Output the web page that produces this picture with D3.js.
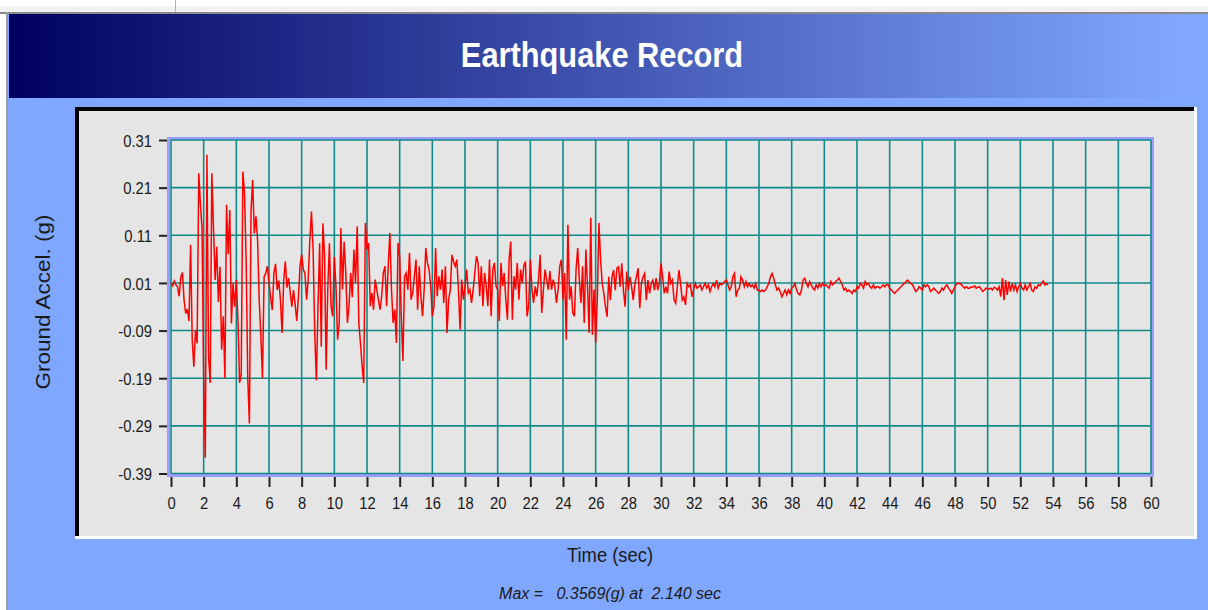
<!DOCTYPE html>
<html lang="en">
  <head>
    <meta charset="UTF-8" />
    <title>Earthquake Record</title>
    <style>
      body { margin: 0; background: #fff; }
      svg { display: block; font-family: "Liberation Sans", Arial, sans-serif; }
    </style>
  </head>
  <body>
    <svg width="1208" height="610"></svg>
    <script src="https://cdn.jsdelivr.net/npm/d3@7"></script>
    <script>
      // record sampled every dt seconds, values in g
      var dt = 0.1;
      var accel00 = [
        0.010, 0.004, 0.014, 0.006, 0.002, -0.018, 0.022, 0.032, -0.026, -0.054,
        -0.045, -0.070, 0.090, -0.110, -0.166, -0.089, -0.117, 0.240, 0.177, 0.125,
        -0.190, -0.357, 0.279, -0.145, -0.200, 0.240, 0.128, 0.016, 0.086, -0.030,
        0.044, -0.130, -0.060, -0.190, 0.174, 0.070, 0.163, -0.075, 0.010, -0.040,
        0.016, -0.070, -0.200, -0.180, 0.244, 0.198, 0.060, -0.190, -0.285, 0.163,
        0.226, 0.114, 0.150, 0.100, -0.026, -0.100, -0.190, 0.023, 0.030, 0.045,
        0.010, -0.020, -0.047, 0.030, 0.050, -0.005, 0.015, -0.025, -0.095, 0.015,
        0.055, 0.000, 0.020, -0.010, -0.040, -0.005, -0.035, -0.070, -0.020, 0.045,
        0.070, 0.038, 0.030, -0.025, 0.016, 0.100, 0.160, 0.080, -0.095, -0.194,
        -0.040, 0.093, -0.124, 0.135, 0.070, -0.172, 0.000, 0.093, -0.040, -0.060
      ];
      var accel10 = [
        0.065, 0.003, -0.109, -0.074, 0.125, -0.004, 0.097, 0.031, -0.074, -0.039,
        0.031, -0.020, 0.080, 0.010, 0.129, -0.074, -0.116, -0.165, -0.200, 0.136,
        0.080, 0.094, -0.039, -0.011, -0.046, 0.017, -0.004, -0.025, -0.046, -0.018,
        0.031, 0.045, -0.039, 0.045, 0.115, -0.004, -0.074, -0.046, -0.116, 0.094,
        0.066, -0.060, -0.154, 0.024, 0.031, -0.004, 0.073, -0.025, -0.011, 0.024,
        0.059, -0.046, 0.045, -0.018, -0.060, -0.004, 0.083, 0.052, 0.038, 0.003,
        -0.060, -0.039, 0.083, -0.018, 0.024, -0.004, 0.038, -0.032, 0.045, -0.095,
        -0.025, -0.004, 0.069, 0.055, 0.045, 0.059, -0.004, -0.088, 0.017, -0.025,
        0.003, 0.038, -0.011, -0.004, -0.032, -0.004, 0.031, 0.066, 0.052, -0.018,
        0.045, -0.039, 0.031, 0.003, -0.039, 0.059, -0.060, 0.038, 0.052, 0.003
      ];
      var accel20 = [
        -0.004, -0.070, 0.052, 0.003, 0.031, -0.025, -0.067, 0.059, 0.097, -0.067,
        0.024, -0.004, 0.052, -0.025, 0.038, 0.010, 0.045, 0.055, -0.060, -0.039,
        0.059, -0.004, -0.032, 0.003, -0.018, 0.017, 0.069, -0.053, -0.004, 0.038,
        0.017, -0.004, 0.035, -0.004, 0.017, 0.003, -0.032, -0.004, 0.045, 0.059,
        -0.025, 0.031, -0.109, 0.132, -0.025, 0.003, -0.053, -0.060, 0.038, 0.083,
        0.017, -0.032, 0.045, -0.074, 0.080, 0.003, -0.095, 0.147, -0.099, -0.004,
        -0.116, -0.025, 0.136, 0.060, 0.009, -0.012, -0.040, -0.061, 0.023, -0.026,
        0.023, 0.037, -0.005, 0.041, 0.044, 0.002, 0.051, -0.005, -0.040, 0.034,
        -0.005, 0.023, 0.002, -0.026, 0.009, 0.023, 0.041, -0.043, 0.009, 0.023,
        0.030, -0.026, 0.016, -0.012, 0.009, 0.016, -0.005, 0.020, -0.005, 0.009
      ];
      var accel30 = [
        0.051, 0.023, -0.012, 0.002, -0.012, 0.034, 0.009, 0.016, -0.026, -0.033,
        0.002, 0.037, 0.009, -0.026, -0.019, -0.036, 0.009, 0.002, 0.006, -0.019,
        -0.004, 0.009, -0.001, 0.002, 0.006, -0.005, 0.002, 0.009, -0.001, 0.006,
        -0.008, 0.002, 0.009, 0.002, 0.016, -0.001, 0.009, 0.006, 0.009, 0.013,
        0.016, 0.006, -0.005, 0.002, 0.023, 0.030, -0.019, -0.005, -0.001, 0.023,
        0.016, 0.002, 0.013, 0.002, 0.009, 0.002, 0.006, -0.001, 0.009, -0.005,
        -0.006, -0.008, -0.005, -0.008, -0.005, 0.002, 0.009, 0.023, 0.030, 0.020,
        0.006, -0.005, -0.001, -0.008, -0.019, -0.012, -0.005, -0.015, -0.005, -0.012,
        -0.001, 0.002, 0.009, -0.005, -0.012, -0.015, -0.005, 0.016, 0.020, 0.009,
        0.002, 0.013, 0.006, -0.001, -0.005, 0.006, -0.001, 0.009, 0.002, 0.009
      ];
      var accel40 = [
        0.004, 0.006, 0.002, -0.001, 0.013, 0.006, 0.009, 0.013, 0.016, 0.020,
        0.013, 0.006, -0.005, -0.001, -0.008, -0.005, -0.008, -0.012, -0.005, -0.008,
        0.002, -0.001, 0.009, 0.006, -0.001, 0.013, 0.006, 0.009, 0.002, -0.001,
        0.006, -0.001, 0.002, 0.002, -0.001, 0.002, 0.006, 0.002, 0.006, 0.006,
        -0.001, -0.005, -0.008, -0.012, -0.008, -0.005, -0.001, 0.002, 0.006, 0.009,
        0.013, 0.016, 0.012, 0.009, 0.006, -0.001, -0.008, -0.005, 0.002, -0.001,
        -0.005, 0.006, 0.002, 0.006, 0.002, -0.008, -0.005, -0.001, -0.005, -0.008,
        -0.012, -0.008, -0.001, -0.005, 0.002, 0.006, -0.001, -0.005, -0.012, -0.005,
        0.002, 0.009, 0.009, 0.009, 0.006, 0.002, -0.001, 0.002, -0.001, -0.001,
        0.002, 0.001, 0.004, -0.001, 0.001, 0.002, -0.003, -0.008, -0.005, -0.001
      ];
      var accel50 = [
        -0.002, -0.003, -0.001, -0.005, 0.001, -0.001, -0.005, 0.002, -0.019, 0.020,
        -0.026, 0.016, -0.015, 0.013, -0.008, 0.009, -0.005, 0.006, -0.008, 0.002,
        0.009, -0.001, -0.005, 0.006, -0.005, 0.002, 0.009, -0.005, -0.008, 0.002,
        -0.001, 0.006, 0.004, 0.009, 0.014, 0.006, 0.008, 0.006
      ];

      var xTickLabels = [0, 2, 4, 6, 8, 10, 12, 14, 16, 18, 20, 22, 24, 26, 28, 30,
        32, 34, 36, 38, 40, 42, 44, 46, 48, 50, 52, 54, 56, 58, 60];
      var yTickLabels = [0.31, 0.21, 0.11, 0.01, -0.09, -0.19, -0.29, -0.39];
      var peakAccel = 0.3569;
      var peakTime = 2.14;

      var accel = accel00.concat(accel10, accel20, accel30, accel40, accel50);
      var record = accel.map(function(a, i) {
        return { t: i * dt, a: a };
      });

      var svg = d3.select("svg");

      // window chrome bits at the top / left
      svg.append("rect").attr("x", 0).attr("y", 0).attr("width", 1208).attr("height", 610).attr("fill", "#ffffff");
      svg.append("rect").attr("x", 0).attr("y", 6).attr("width", 1208).attr("height", 6).attr("fill", "#f1f1f1");
      svg.append("rect").attr("x", 0).attr("y", 12).attr("width", 1208).attr("height", 2).attr("fill", "#8a8a8a");
      svg.append("line").attr("x1", 175.5).attr("x2", 175.5).attr("y1", 0).attr("y2", 12).attr("stroke", "#b0b0b0");
      svg.append("rect").attr("x", 6).attr("y", 12).attr("width", 2).attr("height", 598).attr("fill", "#9a9aa6");

      // light blue background
      svg.append("rect").attr("x", 8).attr("y", 14).attr("width", 1200).attr("height", 596).attr("fill", "#80a7fe");

      var grad = svg.append("defs").append("linearGradient").attr("id", "hdr")
        .attr("x1", "0%").attr("x2", "100%").attr("y1", "0%").attr("y2", "0%");
      grad.append("stop").attr("offset", "0%").attr("stop-color", "#000060");
      grad.append("stop").attr("offset", "100%").attr("stop-color", "#82a9ff");

      svg.append("rect").attr("x", 9).attr("y", 14).attr("width", 1185).attr("height", 84).attr("fill", "url(#hdr)");

      svg.append("text")
        .attr("transform", "translate(602,67) scale(0.88,1)")
        .attr("text-anchor", "middle")
        .attr("font-size", 35)
        .attr("font-weight", "bold")
        .attr("fill", "#ffffff")
        .text("Earthquake Record");

      // sunken panel
      svg.append("rect").attr("x", 75).attr("y", 107).attr("width", 1122).attr("height", 432).attr("fill", "#ffffff");
      svg.append("rect").attr("x", 75).attr("y", 107).attr("width", 1119).attr("height", 429).attr("fill", "#000000");
      svg.append("rect").attr("x", 79).attr("y", 111).attr("width", 1115).attr("height", 425).attr("fill", "#e5e5e5");

      var x = d3.scaleLinear().domain([0, 60]).range([171, 1151]);
      var y = d3.scaleLinear().domain([-0.39, 0.31]).range([473.5, 140]);

      // plot frame
      svg.append("rect")
        .attr("x", 168.5).attr("y", 138.5)
        .attr("width", 984).attr("height", 337)
        .attr("fill", "#e5e5e5")
        .attr("stroke", "#9c9cff")
        .attr("stroke-width", 3);

      var grid = svg.append("g").attr("stroke", "#0f8a8a").attr("stroke-width", 1.6);
      grid.selectAll("line.v").data(xTickLabels).enter().append("line")
        .attr("class", "v")
        .attr("x1", function(d) { return x(d); })
        .attr("x2", function(d) { return x(d); })
        .attr("y1", y(0.31)).attr("y2", y(-0.39));
      grid.selectAll("line.h").data(yTickLabels).enter().append("line")
        .attr("class", "h")
        .attr("x1", x(0)).attr("x2", x(60))
        .attr("y1", function(d) { return y(d); })
        .attr("y2", function(d) { return y(d); });

      var line = d3.line()
        .x(function(d) { return x(d.t); })
        .y(function(d) { return y(d.a); });

      svg.append("path")
        .datum(record)
        .attr("d", line)
        .attr("fill", "none")
        .attr("stroke", "#ff0000")
        .attr("stroke-width", 1.5)
        .attr("stroke-linejoin", "miter");

      // axes
      var tsx = 0.87;
      var yAxis = d3.axisLeft(y)
        .tickValues(yTickLabels)
        .tickSize(8)
        .tickFormat(function(d) { return d.toFixed(2); });
      var gy = svg.append("g").attr("transform", "translate(167,0)").call(yAxis);
      gy.select(".domain").remove();
      gy.selectAll(".tick line").attr("stroke", "#222").attr("stroke-width", 2);
      gy.selectAll(".tick text")
        .attr("font-family", "Liberation Sans, Arial, sans-serif")
        .attr("font-size", 17)
        .attr("fill", "#1a1a1a")
        .attr("x", -15 / tsx)
        .attr("dy", "0.36em")
        .attr("transform", "scale(" + tsx + ",1)");

      var xAxis = d3.axisBottom(x)
        .tickValues(xTickLabels)
        .tickSize(10)
        .tickFormat(function(d) { return d; });
      var gx = svg.append("g").attr("transform", "translate(0,477)").call(xAxis);
      gx.select(".domain").remove();
      gx.selectAll(".tick line").attr("stroke", "#222").attr("stroke-width", 2);
      gx.selectAll(".tick text")
        .attr("font-family", "Liberation Sans, Arial, sans-serif")
        .attr("font-size", 17)
        .attr("fill", "#1a1a1a")
        .attr("y", 20)
        .attr("transform", "scale(" + tsx + ",1)");

      svg.append("text")
        .attr("transform", "translate(50,302) rotate(-90) scale(1,0.87)")
        .attr("text-anchor", "middle")
        .attr("font-size", 22.5)
        .attr("fill", "#1a1a1a")
        .text("Ground Accel. (g)");

      svg.append("text")
        .attr("transform", "translate(610,562) scale(0.92,1)")
        .attr("text-anchor", "middle")
        .attr("font-size", 20)
        .attr("fill", "#1a1a1a")
        .text("Time (sec)");

      svg.append("text")
        .attr("transform", "translate(610,599)")
        .attr("text-anchor", "middle")
        .attr("font-size", 16)
        .attr("font-style", "italic")
        .attr("fill", "#1a1a1a")
        .style("white-space", "pre")
        .text("Max =   " + peakAccel.toFixed(4) + "(g) at  " + peakTime.toFixed(3) + " sec");
    </script>
  </body>
</html>
